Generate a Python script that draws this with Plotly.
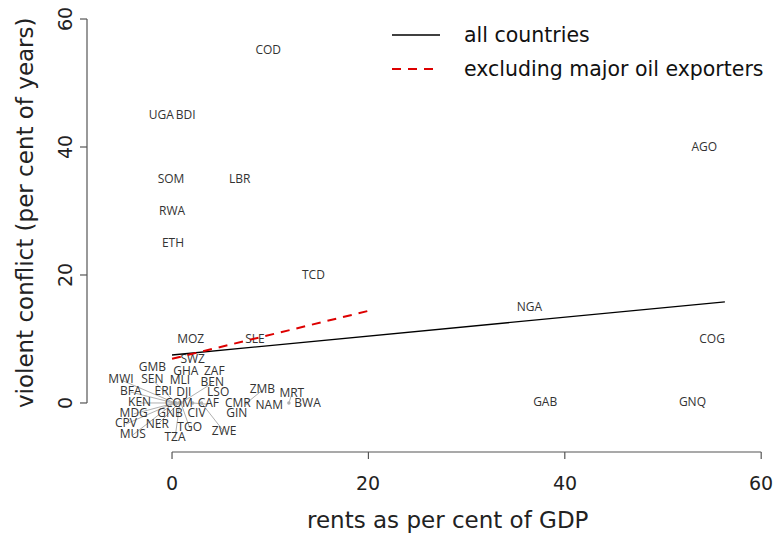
import plotly.graph_objects as go

# Country codes, natural-resource rents (% of GDP) and violent conflict (% of years)
countries = ["COD", "UGA", "BDI", "SOM", "LBR", "RWA", "ETH", "TCD", "AGO", "NGA",
             "COG", "GAB", "GNQ", "MOZ", "SLE",
             "SWZ", "GMB", "GHA", "ZAF", "MWI", "SEN", "MLI", "BEN", "BFA", "ERI",
             "DJI", "LSO", "ZWE", "ZMB", "MRT", "KEN", "COM", "CAF", "CMR", "NAM",
             "BWA", "MDG", "GNB", "CIV", "GIN", "CPV", "NER", "TGO", "MUS", "TZA"]
rents = [9.8, 0.0, 1.4, 0.0, 6.9, 0.0, 0.1, 14.4, 54.2, 36.4,
         55.0, 38.0, 53.0, 1.9, 8.45,
         1.5, 0.3, 1.4, 4.3, 0.3, 0.4, 0.8, 0.9, 0.2, 0.5,
         1.2, 4.7, 3.0, 7.6, 11.9, 0.3, 0.7, 2.1, 6.7, 9.9,
         13.8, 0.3, 0.8, 2.5, 6.6, 0.2, 0.7, 0.9, 0.2, 0.8]
conflict = [55, 45, 45, 35, 35, 30, 25, 20, 40, 15,
            10, 0, 0, 10, 10,
            5, 5, 5, 5, 0, 0, 0, 0, 0, 0,
            0, 0, 0, 0, 0, 0, 0, 0, 0, 0,
            0, 0, 0, 0, 0, 0, 0, 0, 0, 0]

# Label layout: offsets from each point (data units) and whether a leader line is drawn
label_dx = [0, -1.1, 0, -0.1, 0, 0, 0, 0, 0, 0,
            0, 0, 0, 0, 0,
            0.6, -2.3, 0, 0, -5.5, -2.4, 0, 3.2, -4.4, -1.4,
            0, 0, 2.3, 1.6, 0.3, -3.6, 0, 1.6, 0, 0,
            0, -4.2, -1.0, 0, 0, -4.9, -2.2, 0.9, -4.2, -0.5]
label_dy = [0, -0.2, -0.2, -0.2, -0.2, -0.2, -0.2, -0.2, -0.2, -0.2,
            -0.2, 0, 0, -0.2, -0.2,
            1.7, 0.5, -0.2, -0.2, 3.6, 3.6, 3.4, 3.1, 1.7, 1.7,
            1.6, 1.6, -4.5, 2.0, 1.4, 0, -0.2, -0.2, -0.2, -0.5,
            -0.2, -1.7, -1.7, -1.7, -1.7, -3.3, -3.4, -3.9, -5.0, -5.5]
leader = [False] * 15 + [
    False, False, False, False, True, True, False, True, True, False,
    False, False, True, True, True, True, False, True, False, False,
    False, True, False, False, False, True, True, True, True, True]

# Fitted regression lines (end points)
fit_all_x = [0.0, 56.3]
fit_all_y = [7.5, 15.8]
fit_excl_x = [0.0, 20.0]
fit_excl_y = [6.9, 14.4]

x_ticks = [0, 20, 40, 60]
y_ticks = [0, 20, 40, 60]

label_x = [r + d for r, d in zip(rents, label_dx)]
label_y = [c + d for c, d in zip(conflict, label_dy)]

fig = go.Figure()

# leader lines from the true point to the label centre
lx, ly, px, py = [], [], [], []
for i, show in enumerate(leader):
    if show:
        lx += [rents[i], label_x[i], None]
        ly += [conflict[i], label_y[i], None]
        px.append(rents[i])
        py.append(conflict[i])
fig.add_trace(go.Scatter(x=lx, y=ly, mode="lines",
                         line=dict(color="#b0b0b0", width=1), hoverinfo="skip"))
fig.add_trace(go.Scatter(x=px, y=py, mode="markers",
                         marker=dict(color="#b0b0b0", size=3.5), hoverinfo="skip"))

# country labels
fig.add_trace(go.Scatter(x=label_x, y=label_y, mode="text", text=countries,
                         textposition="middle center",
                         textfont=dict(family="Open Sans", size=12, color="#333333"),
                         hoverinfo="skip"))

# regression lines
red_dash = "9px,7px"
fig.add_trace(go.Scatter(x=fit_all_x, y=fit_all_y, mode="lines",
                         line=dict(color="black", width=1.3), hoverinfo="skip"))
fig.add_trace(go.Scatter(x=fit_excl_x, y=fit_excl_y, mode="lines",
                         line=dict(color="#dd0000", width=2, dash=red_dash),
                         hoverinfo="skip"))

axis_col = "#555555"
shapes = [
    dict(type="line", xref="x", yref="paper", x0=x_ticks[0], x1=x_ticks[-1], y0=0, y1=0,
         line=dict(color=axis_col, width=1.2)),
    dict(type="line", xref="paper", yref="y", x0=0, x1=0, y0=y_ticks[0], y1=y_ticks[-1],
         line=dict(color=axis_col, width=1.2)),
]
annotations = []
for t in x_ticks:
    shapes.append(dict(type="line", xref="x", yref="paper", x0=t, x1=t, y0=0, y1=-0.016,
                       line=dict(color=axis_col, width=1.2)))
    annotations.append(dict(x=t, y=0, xref="x", yref="paper", text=str(t), showarrow=False,
                            yanchor="middle", yshift=-31,
                            font=dict(family="DejaVu Sans", size=19, color="#222222")))
for t in y_ticks:
    shapes.append(dict(type="line", xref="paper", yref="y", x0=0, x1=-0.0103, y0=t, y1=t,
                       line=dict(color=axis_col, width=1.2)))
    annotations.append(dict(x=0, y=t, xref="paper", yref="y", text=str(t), showarrow=False,
                            xanchor="center", xshift=-22, textangle=-90,
                            font=dict(family="DejaVu Sans", size=19, color="#222222")))

# axis titles
annotations.append(dict(x=0.532, y=0, xref="paper", yref="paper", text="rents as per cent of GDP",
                        showarrow=False, yanchor="middle", yshift=-68,
                        font=dict(family="DejaVu Sans", size=23, color="#222222")))
annotations.append(dict(x=0, y=0.548, xref="paper", yref="paper",
                        text="violent conflict (per cent of years)", showarrow=False,
                        textangle=-90, xanchor="center", xshift=-62,
                        font=dict(family="DejaVu Sans", size=23, color="#222222")))

# legend
legend_items = [("all countries", "black", "solid", 1.3, 35),
                ("excluding major oil exporters", "#dd0000", red_dash, 2, 69)]
for text, col, dash, w, ypix in legend_items:
    yp = 1 - (ypix - 16) / 436
    shapes.append(dict(type="line", xref="paper", yref="paper",
                       x0=(392 - 87) / 679, x1=(440 - 87) / 679, y0=yp, y1=yp,
                       line=dict(color=col, width=w, dash=dash)))
    annotations.append(dict(x=(462 - 87) / 679, y=yp, xref="paper", yref="paper", text=text,
                            showarrow=False, xanchor="left", yanchor="middle",
                            font=dict(family="DejaVu Sans", size=20.5, color="#111111")))

fig.update_layout(
    width=774, height=536,
    margin=dict(l=87, r=8, t=16, b=84),
    plot_bgcolor="white", paper_bgcolor="white",
    showlegend=False,
    xaxis=dict(range=[-8.66, 60.49], visible=False),
    yaxis=dict(range=[-7.66, 60.47], visible=False),
    shapes=shapes, annotations=annotations,
)

fig.write_html("out.html")
